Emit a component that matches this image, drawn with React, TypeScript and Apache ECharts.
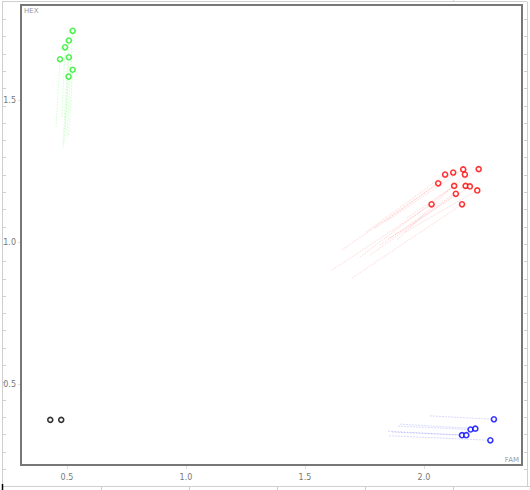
import React, { useEffect, useRef } from "react";
import * as echarts from "echarts";

// ---- data ----
const xTickValues = [0.5, 1.0, 1.5, 2.0];
const yTickValues = [0.5, 1.0, 1.5];

// HEX group (green): current points and tail start points
const greenPoints = [
  [0.524, 1.744], [0.508, 1.71], [0.492, 1.686], [0.471, 1.644],
  [0.508, 1.651], [0.524, 1.607], [0.507, 1.583],
];
const greenTails = [
  [0.5, 1.37], [0.483, 1.334], [0.479, 1.44], [0.454, 1.405],
  [0.492, 1.394], [0.508, 1.377], [0.487, 1.342],
];

const redPoints = [
  [2.089, 1.238], [2.123, 1.245], [2.165, 1.256], [2.172, 1.238],
  [2.23, 1.257], [2.06, 1.207], [2.127, 1.198], [2.175, 1.198],
  [2.193, 1.196], [2.134, 1.17], [2.224, 1.182], [2.032, 1.133],
  [2.16, 1.133],
];
const redTails = [
  [1.756, 1.035], [1.794, 1.049], [1.836, 1.07], [1.887, 1.007],
  [1.929, 1.085], [1.655, 0.972], [1.731, 0.947], [1.815, 0.989],
  [1.857, 1.014], [1.773, 0.954], [1.92, 1.035], [1.613, 0.901],
  [1.697, 0.873],
];

const bluePoints = [
  [2.294, 0.376], [2.196, 0.34], [2.216, 0.343], [2.16, 0.32],
  [2.178, 0.32], [2.279, 0.302],
];
const blueTails = [
  [2.025, 0.388], [1.891, 0.352], [1.899, 0.359], [1.849, 0.334],
  [1.866, 0.331], [1.853, 0.318],
];

const blackPoints = [
  [0.43, 0.374], [0.476, 0.374],
];

const xRange = [0.307, 2.412];
const yRange = [0.215, 1.835];

function tails(points: number[][], starts: number[][]) {
  return points.map((p, i) => ({ coords: [starts[i], p] }));
}

export default function App() {
  const ref = useRef<HTMLDivElement>(null);
  useEffect(() => {
    if (!ref.current) return;
    const chart = echarts.init(ref.current, undefined, { renderer: "svg" });

    const frame: any[] = [];
    const fc = "#cfcfcf";
    frame.push({ type: "line", shape: { x1: 2, y1: 1.5, x2: 527, y2: 1.5 }, style: { stroke: fc, lineWidth: 1 } });
    frame.push({ type: "line", shape: { x1: 2.5, y1: 1.5, x2: 2.5, y2: 490 }, style: { stroke: fc, lineWidth: 1 } });
    frame.push({ type: "line", shape: { x1: 527.5, y1: 1.5, x2: 527.5, y2: 486 }, style: { stroke: fc, lineWidth: 1 } });
    frame.push({ type: "line", shape: { x1: 2, y1: 486.5, x2: 530, y2: 486.5 }, style: { stroke: fc, lineWidth: 1 } });
    for (let k = 1; k < 28; k++) {
      const y = Math.round(1.7 + k * 17.3) + 0.5;
      frame.push({ type: "line", shape: { x1: 2.5, y1: y, x2: 6, y2: y }, style: { stroke: fc, lineWidth: 1 } });
      frame.push({ type: "line", shape: { x1: 524, y1: y, x2: 527.5, y2: y }, style: { stroke: fc, lineWidth: 1 } });
    }
    for (let k = 0; k < 5; k++) {
      const x = 101 + k * 88 + 0.5;
      frame.push({ type: "line", shape: { x1: x, y1: 486.5, x2: x, y2: 490 }, style: { stroke: fc, lineWidth: 1 } });
    }
    frame.push({ type: "line", shape: { x1: 453.5, y1: 0, x2: 453.5, y2: 2 }, style: { stroke: fc, lineWidth: 1 } });
    frame.push({ type: "line", shape: { x1: 2.5, y1: 484, x2: 2.5, y2: 490 }, style: { stroke: "#000", lineWidth: 1.5 } });
    // inner box border
    frame.push({
      type: "rect",
      shape: { x: 21, y: 5, width: 501, height: 460 },
      style: { fill: "none", stroke: "#777", lineWidth: 2 },
      z: 10,
    });
    frame.push({ type: "text", x: 24, y: 7, style: { text: "HEX", fontSize: 7, fill: "#999", fontFamily: "DejaVu Sans" }, z: 11 });
    frame.push({ type: "text", x: 519, y: 463, style: { text: "FAM", fontSize: 7, fill: "#999", fontFamily: "DejaVu Sans", align: "right", verticalAlign: "bottom" }, z: 11 });

    const labelStyle = { fontSize: 8, color: "#777", fontFamily: "DejaVu Sans" };

    chart.setOption({
      animation: false,
      backgroundColor: "#fff",
      grid: { left: 21, right: 8, top: 5, bottom: 25, containLabel: false },
      xAxis: {
        type: "value",
        min: xRange[0],
        max: xRange[1],
        axisLine: { show: false },
        splitLine: { show: false },
        axisTick: { show: true, customValues: xTickValues, length: 4, lineStyle: { color: "#ddd" } },
        axisLabel: {
          customValues: xTickValues,
          margin: 8,
          formatter: (v: number) => v.toFixed(1),
          ...labelStyle,
        },
      },
      yAxis: {
        type: "value",
        min: yRange[0],
        max: yRange[1],
        axisLine: { show: false },
        splitLine: { show: false },
        axisTick: { show: true, customValues: yTickValues, length: 3, lineStyle: { color: "#ddd" } },
        axisLabel: {
          customValues: yTickValues,
          margin: 5,
          formatter: (v: number) => v.toFixed(1),
          ...labelStyle,
        },
      },
      graphic: frame,
      series: [
        { type: "lines", coordinateSystem: "cartesian2d", data: tails(greenPoints, greenTails), lineStyle: { color: "#6f6", width: 1, opacity: 0.25, type: [2, 1] }, silent: true },
        { type: "lines", coordinateSystem: "cartesian2d", data: tails(redPoints, redTails), lineStyle: { color: "#f66", width: 1, opacity: 0.22, type: [2, 1] }, silent: true },
        { type: "lines", coordinateSystem: "cartesian2d", data: tails(bluePoints, blueTails), lineStyle: { color: "#66f", width: 1, opacity: 0.25, type: [2, 1] }, silent: true },
        { type: "scatter", data: greenPoints, symbol: "circle", symbolSize: 5, itemStyle: { color: "#fff", borderColor: "#22ee22", borderWidth: 1.6 } },
        { type: "scatter", data: redPoints, symbol: "circle", symbolSize: 5, itemStyle: { color: "#fff", borderColor: "#f00", borderWidth: 1.6 } },
        { type: "scatter", data: bluePoints, symbol: "circle", symbolSize: 5, itemStyle: { color: "#fff", borderColor: "#00f", borderWidth: 1.6 } },
        { type: "scatter", data: blackPoints, symbol: "circle", symbolSize: 5, itemStyle: { color: "#fff", borderColor: "#000", borderWidth: 1.6 } },
      ],
    });
    return () => chart.dispose();
  }, []);
  return <div ref={ref} style={{ position: "fixed", left: 0, top: 0, width: 530, height: 490 }} />;
}
